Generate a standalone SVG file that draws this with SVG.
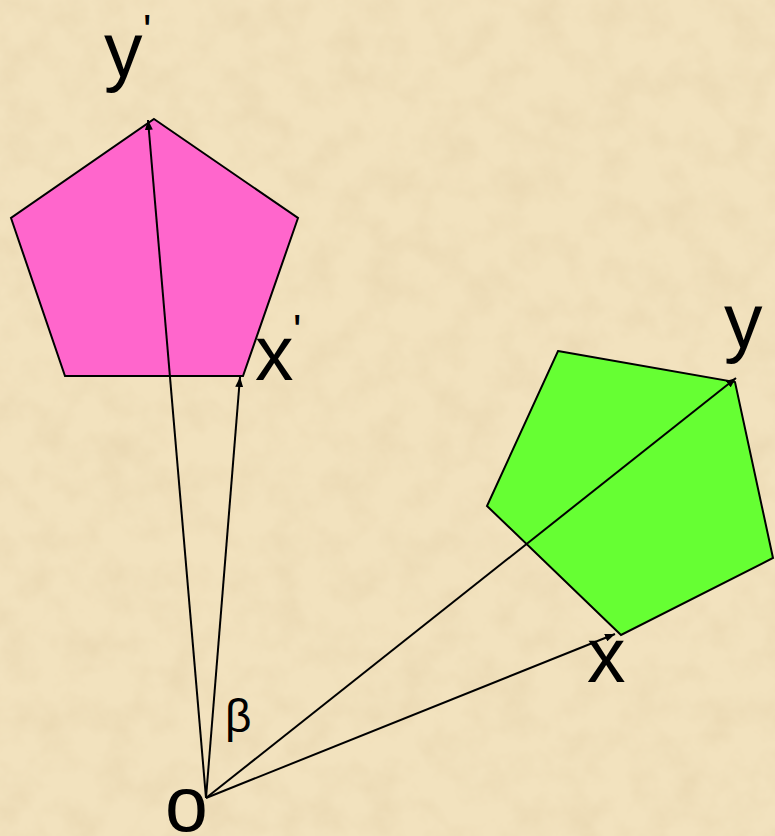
<svg xmlns="http://www.w3.org/2000/svg" width="775" height="836" viewBox="0 0 775 836">
  <defs>
    <filter id="tex" x="0" y="0" width="100%" height="100%" filterUnits="userSpaceOnUse">
      <feTurbulence type="fractalNoise" baseFrequency="0.03" numOctaves="4" seed="7"/>
      <feColorMatrix type="matrix" values="0 0 0 0 0.80  0 0 0 0 0.66  0 0 0 0 0.42  1.1 0 0 0 -0.42"/>
    </filter>
    <marker id="arr" viewBox="0 0 10 8" refX="10" refY="4" markerWidth="10" markerHeight="8" markerUnits="userSpaceOnUse" orient="auto">
      <path d="M0,0 L10,4 L0,8 Z" fill="#000"/>
    </marker>
    <style>
      .lbl { font-family: "Liberation Sans", Arial, sans-serif; font-size: 77px; fill: #000; }
      .prm { font-family: "Liberation Sans", Arial, sans-serif; font-size: 44px; fill: #000; }
      .beta { font-family: "Liberation Sans", Arial, sans-serif; font-size: 46px; fill: #000; }
      .poly { stroke: #000; stroke-width: 2; stroke-linejoin: miter; }
      .vec { stroke: #000; stroke-width: 2; fill: none; marker-end: url(#arr); }
    </style>
  </defs>
  <rect width="775" height="836" fill="#F2E2BE"/>
  <rect width="775" height="836" filter="url(#tex)"/>

  <g id="pentagon-prime">
    <polygon class="poly" fill="#FF66CC" points="154,119 298,218 243,376 65,376 11,218"/>
  </g>
  <g id="pentagon">
    <polygon class="poly" fill="#66FF33" points="558,351 735,382 773,558 621,635 487,506"/>
  </g>

  <g id="connectors">
    <line class="vec" x1="206" y1="798" x2="148" y2="120"/>
    <line class="vec" x1="206" y1="798" x2="240" y2="377"/>
    <line class="vec" x1="206" y1="798" x2="736" y2="378"/>
    <line class="vec" x1="206" y1="798" x2="615" y2="634"/>
  </g>

  <g id="labels">
    <text class="lbl" x="104" y="77">y</text>
    <text class="prm" x="143" y="46">'</text>
    <text class="lbl" x="255" y="380">x</text>
    <text class="prm" x="293" y="346">'</text>
    <text class="lbl" x="724" y="348">y</text>
    <text class="lbl" x="587" y="682">x</text>
    <text class="lbl" x="165" y="831">o</text>
    <text class="beta" x="225" y="732">β</text>
  </g>
</svg>
